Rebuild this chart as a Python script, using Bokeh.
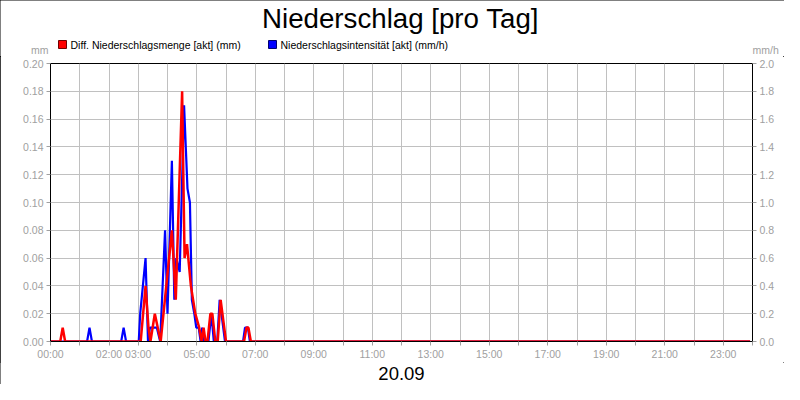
from bokeh.plotting import figure
from bokeh.layouts import column
from bokeh.models import (Range1d, LinearAxis, FixedTicker, NumeralTickFormatter,
                          ColumnDataSource)
from bokeh.core.properties import value
from bokeh.embed import file_html
from bokeh.resources import INLINE

# ---- data ----
red_times = ["00:00", "00:20", "00:25", "00:30", "03:05", "03:15", "03:21", "03:25",
             "03:34", "03:46", "04:09", "04:17", "04:30", "04:35", "04:40", "04:48",
             "04:57", "05:05", "05:10", "05:14", "05:18", "05:22", "05:28", "05:32",
             "05:38", "05:43", "05:49", "06:00", "06:37", "06:42", "06:46", "06:51", "23:55"]
red_mm = [0, 0, 0.01, 0, 0, 0.04, 0.01, 0,
          0.02, 0, 0.08, 0.03, 0.18, 0.06, 0.07, 0.04,
          0.02, 0.01, 0, 0.01, 0, 0, 0.02, 0.02,
          0, 0, 0.03, 0, 0, 0.01, 0.01, 0, 0]

blue_times = ["00:00", "01:15", "01:20", "01:25", "02:25", "02:30", "02:35", "03:01",
              "03:04", "03:15", "03:20", "03:24", "03:38", "03:45", "03:55", "04:00",
              "04:09", "04:14", "04:18", "04:25", "04:34", "04:41", "04:46", "04:50",
              "04:55", "04:59", "05:04", "05:08", "05:11", "05:15", "05:24", "05:30",
              "05:35", "05:42", "05:47", "05:58", "06:35", "06:39", "06:45", "06:49", "23:55"]
blue_mmh = [0, 0, 0.1, 0, 0, 0.1, 0, 0,
            0.2, 0.6, 0, 0.1, 0.1, 0, 0.8, 0.2,
            1.3, 0.3, 0.6, 0.5, 1.7, 1.1, 1.0, 0.3,
            0.2, 0.1, 0.1, 0, 0.1, 0, 0, 0.2,
            0, 0, 0.3, 0, 0, 0.1, 0.1, 0, 0]

x_tick_hours = list(range(0, 25))
x_labeled_hours = [0, 2, 3, 5, 7, 9, 11, 13, 15, 17, 19, 21, 23]
left_ticks = [0.00, 0.02, 0.04, 0.06, 0.08, 0.10, 0.12, 0.14, 0.16, 0.18, 0.20]
right_ticks = [0.0, 0.2, 0.4, 0.6, 0.8, 1.0, 1.2, 1.4, 1.6, 1.8, 2.0]

title_text = "Niederschlag [pro Tag]"
date_text = "20.09"
series_labels = ["Diff. Niederschlagsmenge [akt] (mm)", "Niederschlagsintensität [akt] (mm/h)"]
series_colors = ["#ff0000", "#0000ff"]
left_unit = "mm"
right_unit = "mm/h"


def to_min(s):
    h, m = s.split(":")
    return int(h) * 60 + int(m)


FONT = value("Liberation Sans")
FONT_NAME = "Liberation Sans"
GRAY = "#a0a0a0"
FS = "10.5px"
W = 784
HEAD_H, MAIN_H, FOOT_H = 56, 306, 22
BL, BR = 50, 32   # left / right borders of the chart frame


def blank_fig(h):
    f = figure(width=W, height=h, output_backend="svg", toolbar_location=None, title=None,
               x_range=Range1d(0, W), y_range=Range1d(0, h),
               x_axis_type=None, y_axis_type=None,
               min_border_left=0, min_border_right=0, min_border_top=0, min_border_bottom=0)
    f.grid.visible = False
    f.outline_line_color = None
    f.background_fill_color = "white"
    f.border_fill_color = "white"
    return f


head = blank_fig(HEAD_H)
foot = blank_fig(FOOT_H)
aligned = False
try:
    head.frame_align = False
    foot.frame_align = False
except Exception:
    aligned = True
if aligned:
    for f in (head, foot):
        f.x_range = Range1d(BL, 800 - 48)
        f.min_border_left = BL
        f.min_border_right = BR

# ---------- header: title, legend, units (y = distance from header bottom) ----------
head.text(x=[400], y=[HEAD_H - 18], text=[title_text], text_align="center",
          text_baseline="middle", text_font=FONT, text_font_size="27.7px", text_color="black")
head.rect(x=[62, 272], y=[HEAD_H - 44, HEAD_H - 44], width=8, height=8,
          fill_color=series_colors, line_color=["#700000", "#000070"], line_width=1)
head.text(x=[70, 280], y=[HEAD_H - 44.8, HEAD_H - 44.8], text=series_labels, text_align="left",
          text_baseline="middle", text_font=FONT, text_font_size=FS, text_color="black")
mm_x, mm_align = (52, "left") if aligned else (48, "right")
mmh_x, mmh_align = (750, "right") if aligned else (752, "left")
head.text(x=[mm_x], y=[HEAD_H - 49.5], text=[left_unit], text_align=mm_align,
          text_baseline="middle", text_font=FONT, text_font_size=FS, text_color=GRAY)
head.text(x=[mmh_x], y=[HEAD_H - 49.5], text=[right_unit], text_align=mmh_align,
          text_baseline="middle", text_font=FONT, text_font_size=FS, text_color=GRAY)

# ---------- main chart ----------
p = figure(width=W, height=MAIN_H, output_backend="svg", toolbar_location=None,
           title=None, x_range=Range1d(0, 1440), y_range=Range1d(0, 0.2),
           min_border_left=BL, min_border_right=BR, min_border_top=7, min_border_bottom=20)
p.extra_y_ranges = {"int": Range1d(0, 2.0)}
p.background_fill_color = "white"
p.border_fill_color = "white"
p.outline_line_color = "black"
p.outline_line_width = 1

xa = p.xaxis[0]
xa.ticker = FixedTicker(ticks=[h * 60 for h in x_tick_hours])
xa.major_label_overrides = {h * 60: ("%02d:00" % h if h in x_labeled_hours else "")
                            for h in x_tick_hours}
ya = p.yaxis[0]
ya.ticker = FixedTicker(ticks=left_ticks)
ya.formatter = NumeralTickFormatter(format="0.00")
ra = LinearAxis(y_range_name="int", ticker=FixedTicker(ticks=right_ticks),
                formatter=NumeralTickFormatter(format="0.0"))
p.add_layout(ra, "right")

for ax in [xa, ya, ra]:
    ax.axis_line_color = "black"
    ax.major_tick_line_color = GRAY
    ax.major_tick_out = 4
    ax.major_tick_in = 0
    ax.minor_tick_line_color = None
    ax.major_label_text_color = GRAY
    ax.major_label_text_font = FONT_NAME
    ax.major_label_text_font_size = FS
    ax.major_label_standoff = 3
xa.major_label_standoff = 2

p.xgrid.ticker = FixedTicker(ticks=[h * 60 for h in x_tick_hours])
p.ygrid.ticker = FixedTicker(ticks=left_ticks)
for g in [p.xgrid[0], p.ygrid[0]]:
    g.grid_line_color = "#c0c0c0"
    g.grid_line_width = 1

blue_src = ColumnDataSource(dict(t=[to_min(s) for s in blue_times], v=blue_mmh))
red_src = ColumnDataSource(dict(t=[to_min(s) for s in red_times], v=red_mm))
p.line("t", "v", source=blue_src, color=series_colors[1], line_width=2.2, y_range_name="int")
p.line("t", "v", source=red_src, color=series_colors[0], line_width=2.5)

# ---------- footer: date ----------
foot.text(x=[401], y=[11], text=[date_text], text_align="center", text_baseline="middle",
          text_font=FONT, text_font_size="18.5px", text_color="black")

layout = column(head, p, foot, spacing=0)
layout.styles = {"outline": "1px solid black", "outline-offset": "-1px"}

open("out.html", "w").write(file_html(layout, INLINE))
